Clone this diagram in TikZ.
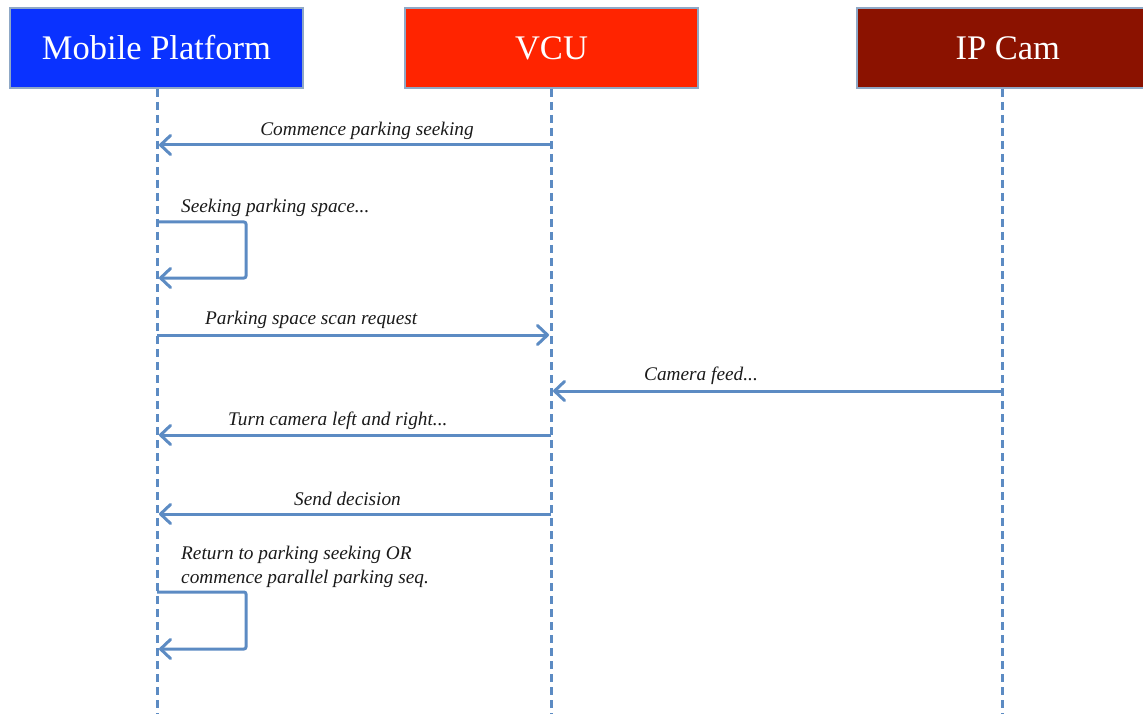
\documentclass[tikz,border=0pt]{standalone}
\usepackage{fontspec}
\setmainfont{Liberation Serif}
\usetikzlibrary{arrows.meta}
\definecolor{lineblue}{HTML}{5C8BC3}
\definecolor{boxedge}{HTML}{8FA8C6}
\definecolor{mpblue}{HTML}{0A32FF}
\definecolor{vcured}{HTML}{FF2400}
\definecolor{camred}{HTML}{8B1200}
\definecolor{txt}{HTML}{1A1A1A}
\begin{document}
\begin{tikzpicture}[x=1pt,y=-1pt,
  header/.style={draw=boxedge,line width=1.5pt,minimum height=80pt,inner sep=0pt,text=white,font=\fontsize{34.5}{38}\selectfont},
  lifeline/.style={draw=lineblue,line width=3pt,dash pattern=on 8pt off 5pt},
  msg/.style={draw=lineblue,line width=3pt,line join=round,-{Straight Barb[length=10pt,width=19pt,line width=3pt,round]}},
  lbl/.style={font=\fontsize{19.3}{24.5}\selectfont\itshape,text=txt,inner sep=0pt}]
\useasboundingbox (0,0) rectangle (1143,714);
\node[header,fill=mpblue,minimum width=293pt] (mp) at (156.5,48) {\raisebox{-2pt}{Mobile Platform}};
\node[header,fill=vcured,minimum width=293pt] (vcu) at (551.5,48) {\raisebox{-2pt}{VCU}};
\node[header,fill=camred,minimum width=302pt,anchor=west] (cam) at (856,48) {\raisebox{-2pt}{IP Cam}};
\coordinate (mpend) at (157,714);
\coordinate (vcuend) at (551,714);
\coordinate (camend) at (1002,714);
\draw[lifeline] (157,89) -- (mpend);
\draw[lifeline] (551,89) -- (vcuend);
\draw[lifeline] (1002,89) -- (camend);
% message coordinates
\coordinate (v1) at (551,145); \coordinate (m1) at (159,145);
\coordinate (m2a) at (157,222); \coordinate (m2b) at (246,222); \coordinate (m2c) at (246,278); \coordinate (m2d) at (159,278);
\coordinate (m3) at (157,335); \coordinate (v3) at (549,335);
\coordinate (c4) at (1002,391); \coordinate (v4) at (553,391);
\coordinate (v5) at (551,435); \coordinate (m5) at (159,435);
\coordinate (v6) at (551,514); \coordinate (m6) at (159,514);
\coordinate (m7a) at (157,592); \coordinate (m7b) at (246,592); \coordinate (m7c) at (246,649); \coordinate (m7d) at (159,649);
\draw[msg] (v1) -- (m1);
\draw[msg,rounded corners=2pt] (m2a) -- (m2b) -- (m2c) -- (m2d);
\draw[msg] (m3) -- (v3);
\draw[msg] (c4) -- (v4);
\draw[msg] (v5) -- (m5);
\draw[msg] (v6) -- (m6);
\draw[msg,rounded corners=2pt] (m7a) -- (m7b) -- (m7c) -- (m7d);
% labels
\node[lbl] (l1) at (367,131) {Commence parking seeking};
\node[lbl,anchor=west] (l2) at (181,208) {Seeking parking space...};
\node[lbl,anchor=west] (l3) at (205,320) {Parking space scan request};
\node[lbl,anchor=west] (l4) at (644,376) {Camera feed...};
\node[lbl,anchor=west] (l5) at (228,421) {Turn camera left and right...};
\node[lbl,anchor=west] (l6) at (294,499) {Send decision};
\node[lbl,anchor=west,align=left] (l7) at (181,567) {Return to parking seeking OR\\commence parallel parking seq.};
\end{tikzpicture}
\end{document}
